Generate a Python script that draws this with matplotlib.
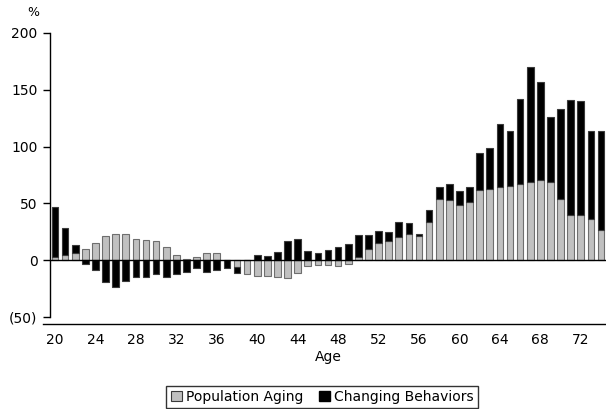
import matplotlib
matplotlib.use("Agg")
import matplotlib.pyplot as plt
from matplotlib.lines import Line2D
from matplotlib.patches import Patch
import numpy as np

plt.rcParams['font.family'] = ['DejaVu Sans']

# Age groups and contribution of each driver (%)
ages = list(range(20, 75))
population_aging = [
    3, 5, 6, 10, 15, 21, 23, 23, 19, 18,
    17, 12, 5, 1, 3, 6, 6, 0.5, -6, -12,
    -14, -14, -15, -16, -11, -5, -4, -4, -5, -3,
    3, 10, 15, 17, 20.5, 23.5, 21.5, 34, 54, 53,
    48.5, 51.5, 62, 63, 64, 65, 67, 69, 70.5, 69,
    54, 40, 40, 36, 27,
]
changing_behaviors = [
    44, 23, 7, -3, -9, -19, -24, -18, -15, -15,
    -12, -15, -12, -10, -7, -10, -9, -7, -5, 0,
    5, 4, 7, 17, 19, 8, 6, 9, 12, 14,
    19, 12, 11, 8, 13, 9.5, 1.5, 10, 10, 14,
    12, 12.5, 32, 36, 56, 49, 74.5, 101, 86.5, 57,
    79.5, 101, 100, 78, 87,
]
xtick_ages = list(range(20, 73, 4))
ytick_vals = [-50, 0, 50, 100, 150, 200]
ytick_labels = ['(50)', '0', '50', '100', '150', '200']

W, H = 606, 409
fig = plt.figure(figsize=(W / 100, H / 100), dpi=100)
ax = fig.add_axes([50 / W, 1 - 317 / H, (606 - 50) / W, (317 - 33) / H])

x = np.array(ages, dtype=float)
g = np.array(population_aging, dtype=float)
b = np.array(changing_behaviors, dtype=float)

# Positive and negative parts stack separately from zero
b_bottom = np.where(b >= 0, np.maximum(g, 0), np.minimum(g, 0))

width = 0.66
ax.bar(x, g, width=width, color='#c0c0c0', edgecolor='#6e6e6e', linewidth=0.8, zorder=2)
ax.bar(x, b, bottom=b_bottom, width=width, color='#000000', edgecolor='#3a3a3a',
       linewidth=0.8, zorder=2)
ax.axhline(0, color='black', linewidth=1.0, zorder=3)

ax.set_xlim(19.5, 74.5)
ax.set_ylim(-50, 200)

for s in ['top', 'right', 'bottom']:
    ax.spines[s].set_visible(False)
ax.spines['left'].set_linewidth(1.0)

ax.set_yticks(ytick_vals)
ax.set_yticklabels(ytick_labels, fontsize=10)
ax.tick_params(axis='y', direction='out', length=5, width=1, pad=4)

ax.set_xticks(xtick_ages)
ax.set_xticklabels([str(a) for a in xtick_ages], fontsize=10)
ax.tick_params(axis='x', length=0, pad=11.5)

# Category axis rule under the plot
fig.add_artist(Line2D([43 / W, 606 / W], [1 - 324 / H, 1 - 324 / H],
                      color='black', linewidth=1.0))

fig.text(33 / W, 1 - 13 / H, '%', ha='center', va='center', fontsize=9)
fig.text(328 / W, 1 - 357 / H, 'Age', ha='center', va='center', fontsize=10)

handles = [Patch(facecolor='#c0c0c0', edgecolor='#3a3a3a', linewidth=0.8),
           Patch(facecolor='#000000', edgecolor='#000000')]
leg = fig.legend(handles, ['Population Aging', 'Changing Behaviors'],
                 loc='center', bbox_to_anchor=(322 / W, 1 - 397 / H), ncol=2,
                 fontsize=10, frameon=True, fancybox=False, edgecolor='black',
                 handlelength=0.8, handleheight=0.8, handletextpad=0.3,
                 columnspacing=1.1, borderpad=0.3)
leg.get_frame().set_linewidth(1.0)

fig.savefig('out.png', dpi=100)
